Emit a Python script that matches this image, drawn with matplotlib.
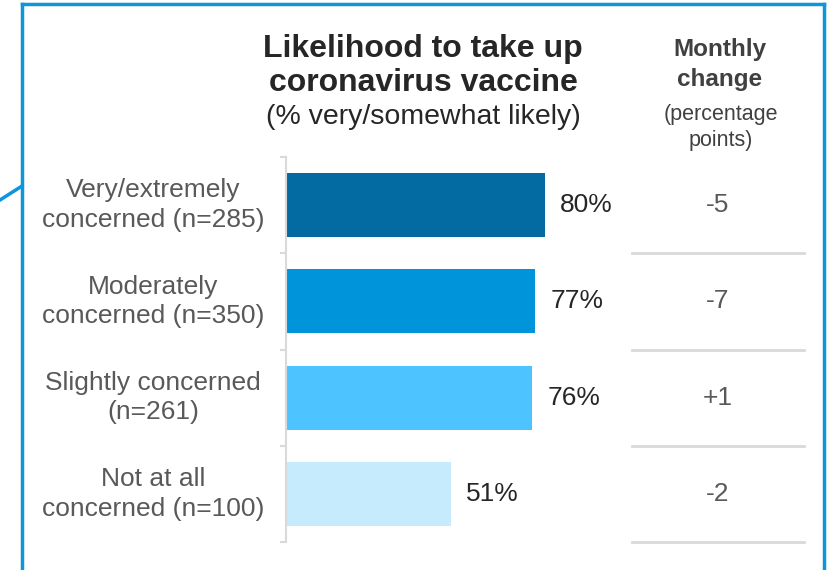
import matplotlib
matplotlib.use("Agg")
import matplotlib.pyplot as plt
from matplotlib.lines import Line2D
from matplotlib.transforms import blended_transform_factory
import numpy as np

plt.rcParams['font.family'] = ['Liberation Sans', 'DejaVu Sans']

''' Data '''
categories = ['Very/extremely\nconcerned (n=285)',
              'Moderately\nconcerned (n=350)',
              'Slightly concerned\n(n=261)',
              'Not at all\nconcerned (n=100)']
likely_pct = [80, 77, 76, 51]
monthly_change = ['-5', '-7', '+1', '-2']
bar_colors = ['#036ba1', '#0095da', '#4dc4ff', '#c6ebfd']

W, H = 828, 570
fig = plt.figure(figsize=(W / 100, H / 100), dpi=100)


def fx(px):
    return px / W


def fy(py):
    return 1 - py / H


''' Bar axes '''
ax = fig.add_axes([fx(286), fy(542), fx(324), 385 / H])
y = np.arange(len(categories))
ax.barh(y, likely_pct, height=0.667, color=bar_colors, zorder=2)
ax.set_xlim(0, 100)
ax.set_ylim(len(categories) - 0.5, -0.5)
ax.set_xticks([])
ax.set_yticks([])
ax.set_yticks(np.arange(len(categories) + 1) - 0.5, minor=True)
ax.tick_params(axis='y', which='minor', length=4, width=1.5, color='#d9d9d9')
for s in ['top', 'right', 'bottom']:
    ax.spines[s].set_visible(False)
ax.spines['left'].set_color('#d9d9d9')
ax.spines['left'].set_linewidth(1.5)
ax.patch.set_alpha(0)

for i, v in enumerate(likely_pct):
    ax.annotate(f'{v}%', (v, i), xytext=(15, 0), textcoords='offset pixels',
                ha='left', va='center', fontsize=19, color='#262626')

''' Category labels and monthly change column '''
tr = blended_transform_factory(fig.transFigure, ax.transData)
for i, c in enumerate(categories):
    ax.text(fx(153), i, c, transform=tr, ha='center', va='center',
            fontsize=19, color='#595959', linespacing=1.3)
    ax.text(fx(718), i, monthly_change[i], transform=tr, ha='center',
            va='center', fontsize=19, color='#595959')
    ax.add_artist(Line2D([fx(632), fx(804)], [i + 0.5, i + 0.5], transform=tr,
                         color='#d9d9d9', lw=2, clip_on=False))

''' Titles '''
fig.text(fx(423), fy(57), 'Likelihood to take up', ha='center', va='baseline',
         fontsize=23, fontweight='bold', color='#262626')
fig.text(fx(423), fy(91), 'coronavirus vaccine', ha='center', va='baseline',
         fontsize=23, fontweight='bold', color='#262626')
fig.text(fx(423), fy(124), '(% very/somewhat likely)', ha='center', va='baseline',
         fontsize=20.5, color='#262626')

fig.text(fx(720), fy(56), 'Monthly', ha='center', va='baseline',
         fontsize=17.5, fontweight='bold', color='#404040')
fig.text(fx(720), fy(86), 'change', ha='center', va='baseline',
         fontsize=17.5, fontweight='bold', color='#404040')
fig.text(fx(721), fy(120), '(percentage', ha='center', va='baseline',
         fontsize=15.5, color='#404040')
fig.text(fx(721), fy(146), 'points)', ha='center', va='baseline',
         fontsize=15.5, color='#404040')

''' Frame '''
frame_c = '#0d96da'
fig.add_artist(Line2D([fx(22), fx(22)], [fy(4), 0], transform=fig.transFigure, color=frame_c, lw=2.5))
fig.add_artist(Line2D([fx(22), fx(824)], [fy(4), fy(4)], transform=fig.transFigure, color=frame_c, lw=2.5))
fig.add_artist(Line2D([fx(824), fx(824)], [fy(4), 0], transform=fig.transFigure, color=frame_c, lw=2.5))
fig.add_artist(Line2D([0, fx(22)], [fy(200), fy(186)], transform=fig.transFigure, color=frame_c, lw=2.5))

fig.savefig('out.png', dpi=100)
